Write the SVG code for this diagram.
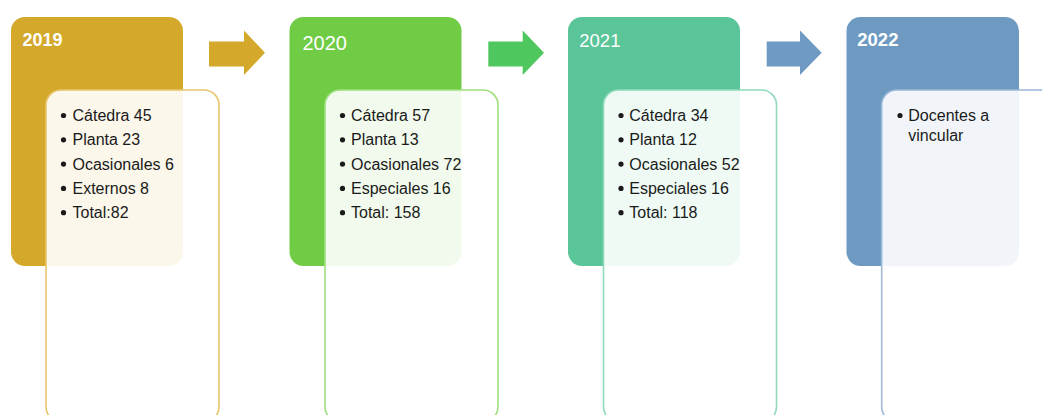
<svg xmlns="http://www.w3.org/2000/svg" width="1042" height="415" viewBox="0 0 1042 415">
<style>
.year{font-family:"Liberation Sans",Arial,sans-serif;fill:#fff}
.item{font-family:"Liberation Sans",Arial,sans-serif;font-size:16px;fill:#1a1a1a}
.inner{fill:#fff;fill-opacity:0.9;stroke-width:1.6}
</style>
<rect width="1042" height="415" fill="#fff"/>
<g id="node-2019">
<rect x="11" y="17" width="172" height="249" rx="14" fill="#D4A82A"/>
<rect class="inner" x="46" y="90" width="173" height="332" rx="15" stroke="#E8C56C"/>
<text class="year" x="22.5" y="46" font-size="18" font-weight="bold">2019</text>
<g class="item">
<circle cx="63.5" cy="115.5" r="2.6" fill="#1a1a1a"/><text x="72.5" y="121">Cátedra 45</text>
<circle cx="63.5" cy="139.8" r="2.6" fill="#1a1a1a"/><text x="72.5" y="145.3">Planta 23</text>
<circle cx="63.5" cy="164.1" r="2.6" fill="#1a1a1a"/><text x="72.5" y="169.6">Ocasionales 6</text>
<circle cx="63.5" cy="188.4" r="2.6" fill="#1a1a1a"/><text x="72.5" y="193.9">Externos 8</text>
<circle cx="63.5" cy="212.7" r="2.6" fill="#1a1a1a"/><text x="72.5" y="218.2">Total:82</text>
</g>
</g>
<g id="node-2020">
<rect x="289.5" y="17" width="172" height="249" rx="14" fill="#70CC44"/>
<rect class="inner" x="325" y="90" width="173" height="332" rx="15" stroke="#9EDF80"/>
<text class="year" x="302.5" y="50" font-size="20">2020</text>
<g class="item">
<circle cx="342.5" cy="115.5" r="2.6" fill="#1a1a1a"/><text x="351" y="121">Cátedra 57</text>
<circle cx="342.5" cy="139.8" r="2.6" fill="#1a1a1a"/><text x="351" y="145.3">Planta 13</text>
<circle cx="342.5" cy="164.1" r="2.6" fill="#1a1a1a"/><text x="351" y="169.6">Ocasionales 72</text>
<circle cx="342.5" cy="188.4" r="2.6" fill="#1a1a1a"/><text x="351" y="193.9">Especiales 16</text>
<circle cx="342.5" cy="212.7" r="2.6" fill="#1a1a1a"/><text x="351" y="218.2">Total: 158</text>
</g>
</g>
<g id="node-2021">
<rect x="568" y="17" width="172" height="249" rx="14" fill="#5AC598"/>
<rect class="inner" x="603.5" y="90" width="173" height="332" rx="15" stroke="#8FDAB9"/>
<text class="year" x="579.3" y="46.5" font-size="18.5">2021</text>
<g class="item">
<circle cx="621" cy="115.5" r="2.6" fill="#1a1a1a"/><text x="629.3" y="121">Cátedra 34</text>
<circle cx="621" cy="139.8" r="2.6" fill="#1a1a1a"/><text x="629.3" y="145.3">Planta 12</text>
<circle cx="621" cy="164.1" r="2.6" fill="#1a1a1a"/><text x="629.3" y="169.6">Ocasionales 52</text>
<circle cx="621" cy="188.4" r="2.6" fill="#1a1a1a"/><text x="629.3" y="193.9">Especiales 16</text>
<circle cx="621" cy="212.7" r="2.6" fill="#1a1a1a"/><text x="629.3" y="218.2">Total: 118</text>
</g>
</g>
<g id="node-2022">
<rect x="846.5" y="17" width="172.5" height="249" rx="14" fill="#6E9AC2"/>
<rect class="inner" x="881.7" y="90" width="173" height="332" rx="15" stroke="#9DB9D9"/>
<text class="year" x="857.3" y="46" font-size="18.5" font-weight="bold">2022</text>
<g class="item">
<circle cx="900" cy="115.5" r="2.6" fill="#1a1a1a"/><text x="908.3" y="121">Docentes a</text>
<text x="908.3" y="141">vincular</text>
</g>
</g>
<g id="connectors">
<polygon points="209,41.5 244,41.5 244,30.5 265,52.8 244,75 244,66.5 209,66.5" fill="#D4A82A"/>
<polygon points="488.3,41.5 522.7,41.5 522.7,30.5 544,52.8 522.7,75 522.7,66.5 488.3,66.5" fill="#4EC85E"/>
<polygon points="766.7,41.5 800,41.5 800,30.5 821.7,52.8 800,75 800,66.5 766.7,66.5" fill="#6E9AC4"/>
</g>
</svg>
